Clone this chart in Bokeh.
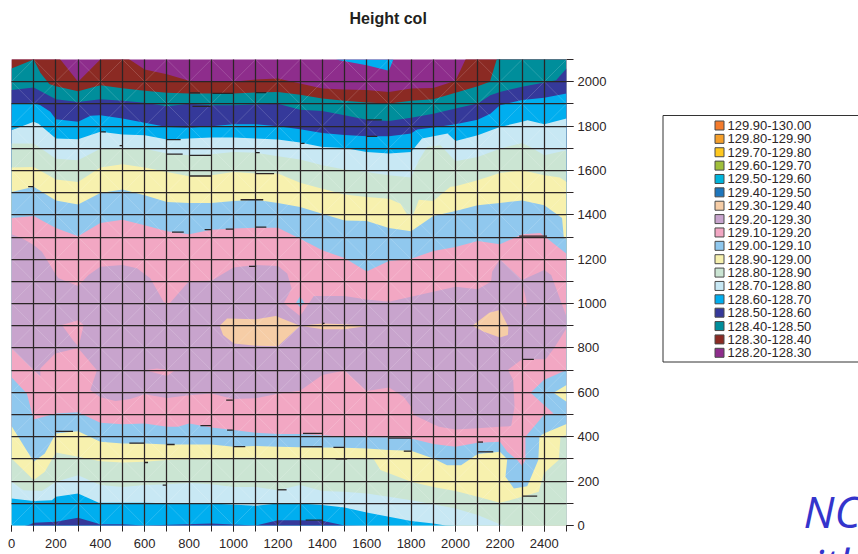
from bokeh.plotting import figure
from bokeh.layouts import row
from bokeh.embed import file_html
from bokeh.resources import INLINE
from bokeh.core.properties import value
from bokeh.models import (LinearAxis, FixedTicker, Range1d, Grid, Title)

TITLE = "Height col"
X_MAJOR = list(range(0, 2401, 200))
X_MINOR = list(range(0, 2501, 100))
Y_MAJOR = list(range(0, 2001, 200))
Y_MINOR = list(range(0, 2101, 100))

LEGEND_LABELS = ["129.90-130.00", "129.80-129.90", "129.70-129.80", "129.60-129.70", "129.50-129.60",
                 "129.40-129.50", "129.30-129.40", "129.20-129.30", "129.10-129.20", "129.00-129.10",
                 "128.90-129.00", "128.80-128.90", "128.70-128.80", "128.60-128.70", "128.50-128.60",
                 "128.40-128.50", "128.30-128.40", "128.20-128.30"]
LEGEND_COLORS = ["#F47B2C", "#F59F2A", "#FFC81E", "#A0BF3B", "#00B5DC", "#1E76BC", "#F6CDA6", "#C8A4CD",
                 "#F2A7C3", "#90C8EE", "#F7F1AE", "#CBE5D3", "#C8E8F4", "#00AEEF", "#35399A", "#008E9B",
                 "#8B2A23", "#8E2D8C"]
PEACH, MAUVE, PINK, MIDBLUE, YELLOW, GREEN, LIGHT, BLUE, NAVY, TEAL, RED, PURPLE = LEGEND_COLORS[6:]

# Contour boundaries (upper half, top to bottom)
red_x = [0, 100, 200, 300, 400, 500, 600, 700, 800, 900, 1000, 1100, 1200, 1300, 1400, 1500, 1600, 1700, 1800, 1900, 2000, 2100, 2500]
red_y = [2150, 2150, 2125, 2000, 2100, 2121, 2055, 2034, 2004, 2000, 2000, 2010, 2014, 1992, 1969, 1965, 1962, 1954, 1969, 1972, 2004, 2217, 2300]
teal_x = [0, 100, 130, 170, 200, 300, 400, 500, 600, 700, 800, 900, 1000, 1100, 1200, 1300, 1400, 1500, 1600, 1700, 1800, 1900, 2000, 2100, 2155, 2200, 2500]
teal_y = [2060, 2100, 2040, 1990, 1980, 1957, 1984, 1970, 1959, 1950, 1947, 1947, 1947, 1951, 1954, 1941, 1924, 1914, 1906, 1902, 1914, 1921, 1950, 1980, 2000, 2148, 2300]
navy_x = [0, 100, 200, 300, 400, 500, 600, 700, 800, 900, 1000, 1100, 1200, 1300, 1400, 1500, 1600, 1700, 1800, 1900, 2000, 2100, 2157, 2200, 2300, 2400, 2453, 2500]
navy_y = [1962, 1974, 1921, 1909, 1921, 1914, 1905, 1889, 1901, 1894, 1894, 1897, 1901, 1874, 1868, 1849, 1829, 1823, 1837, 1856, 1879, 1902, 1939, 1954, 1977, 1996, 2007, 2059]
blue_x = [0, 100, 130, 175, 200, 300, 356, 400, 500, 600, 700, 800, 900, 1000, 1100, 1200, 1300, 1400, 1500, 1600, 1700, 1800, 1827, 1900, 2000, 2100, 2157, 2200, 2300, 2400, 2500]
blue_y = [1902, 1905, 1894, 1864, 1831, 1819, 1846, 1849, 1834, 1815, 1796, 1792, 1799, 1808, 1808, 1799, 1786, 1769, 1760, 1754, 1754, 1766, 1784, 1793, 1808, 1829, 1856, 1894, 1917, 1928, 1947]
light_x = [0, 77, 100, 122, 200, 300, 400, 500, 600, 700, 800, 900, 1000, 1100, 1200, 1300, 1400, 1500, 1600, 1700, 1800, 1849, 1964, 2000, 2100, 2200, 2300, 2325, 2400, 2500]
light_y = [1781, 1811, 1819, 1811, 1744, 1741, 1774, 1762, 1759, 1739, 1744, 1748, 1748, 1744, 1739, 1726, 1706, 1701, 1683, 1676, 1683, 1744, 1766, 1733, 1759, 1796, 1819, 1826, 1808, 1834]
green_x = [0, 100, 130, 200, 300, 400, 500, 600, 700, 800, 900, 1000, 1100, 1200, 1300, 1400, 1500, 1600, 1700, 1800, 1835, 1872, 1932, 2000, 2100, 2200, 2300, 2337, 2400, 2500]
green_y = [1721, 1721, 1701, 1653, 1646, 1698, 1698, 1698, 1676, 1668, 1673, 1683, 1680, 1664, 1649, 1623, 1604, 1593, 1578, 1568, 1646, 1706, 1714, 1641, 1661, 1698, 1724, 1706, 1668, 1691]
yellow_x = [0, 100, 200, 300, 400, 500, 600, 700, 800, 900, 1000, 1100, 1200, 1300, 1400, 1500, 1600, 1700, 1752, 1782, 1810, 1835, 1900, 1977, 2000, 2100, 2200, 2300, 2400, 2470, 2500]
yellow_y = [1613, 1616, 1559, 1548, 1613, 1628, 1613, 1593, 1574, 1578, 1593, 1586, 1586, 1545, 1518, 1492, 1480, 1473, 1450, 1401, 1401, 1468, 1462, 1526, 1529, 1556, 1589, 1601, 1578, 1568, 1548]
midblue_x = [0, 100, 200, 300, 400, 500, 600, 700, 800, 900, 1000, 1100, 1200, 1300, 1400, 1500, 1600, 1700, 1800, 1900, 2000, 2100, 2200, 2300, 2400, 2480, 2488, 2500]
midblue_y = [1503, 1526, 1465, 1447, 1498, 1514, 1488, 1458, 1453, 1453, 1462, 1468, 1453, 1435, 1405, 1375, 1372, 1341, 1326, 1395, 1417, 1443, 1453, 1465, 1443, 1386, 1297, 1290]
pink_x = [0, 100, 200, 300, 400, 500, 600, 700, 800, 900, 1000, 1100, 1200, 1300, 1400, 1500, 1600, 1700, 1800, 1900, 2000, 2100, 2200, 2300, 2382, 2500]
pink_y = [1386, 1395, 1341, 1303, 1363, 1378, 1353, 1326, 1312, 1333, 1338, 1342, 1342, 1292, 1240, 1205, 1145, 1192, 1202, 1237, 1255, 1282, 1267, 1312, 1318, 1225]

# Central 129.20-129.30 region and its islands
mauve_x = [0, 47, 100, 137, 197, 212, 300, 347, 400, 500, 565, 625, 655, 685, 708, 800, 900, 1000, 1100, 1200, 1242, 1262, 1227, 1300, 1362, 1500, 1600, 1700, 1800, 1900, 2000, 2100, 2160, 2165, 2200, 2300, 2400, 2431, 2500,
           2500, 2443, 2406, 2300, 2236, 2260, 2266, 2251, 2200, 2100, 2000, 1925, 1812, 1800, 1766, 1700, 1600, 1500, 1400, 1300, 1200, 1100, 1000, 900, 800, 700, 600, 535, 468, 400, 355, 385, 300, 197, 130, 130, 100, 0]
mauve_y = [1313, 1294, 1264, 1234, 1136, 1114, 1079, 1129, 1166, 1174, 1159, 1114, 1061, 1008, 996, 1102, 1103, 1163, 1174, 1169, 1136, 1068, 1001, 944, 1034, 1034, 1019, 1008, 1031, 1053, 1076, 1065, 1098, 1144, 1200, 1106, 1151, 1129, 941,
           889, 798, 749, 749, 701, 656, 535, 448, 445, 438, 433, 445, 498, 535, 580, 622, 606, 698, 678, 607, 594, 574, 570, 595, 587, 575, 592, 570, 561, 578, 611, 700, 800, 775, 707, 673, 700, 798]
peach1_x = [938, 971, 1102, 1190, 1300, 1200, 1107, 1002, 953]
peach1_y = [900, 933, 929, 944, 900, 808, 810, 820, 858]
peach2_x = [1300, 1400, 1500, 1610, 1500, 1400]
peach2_y = [900, 910, 907, 900, 884, 884]
peach3_x = [2076, 2152, 2200, 2238, 2236, 2200, 2128]
peach3_y = [900, 959, 971, 895, 858, 847, 873]
pinkisle1_x = [227, 300, 325, 302, 277]
pinkisle1_y = [903, 925, 903, 805, 835]
pinkisle2_x = [603, 655, 734, 700]
pinkisle2_y = [700, 707, 697, 674]
pinkisle3_x = [2300, 2300, 2315, 2322]
pinkisle3_y = [1100, 1015, 985, 1000]
diamond_x = [1300, 1318, 1300, 1282]
diamond_y = [1032, 1005, 983, 1005]
wedge_x = [1460, 1600, 1700, 1720]
wedge_y = [2100, 2074, 2049, 2100]

# Lower half, top to bottom
lowmid_x = [0, 69, 100, 200, 300, 400, 500, 600, 700, 750, 800, 900, 1000, 1100, 1200, 1300, 1400, 1500, 1600, 1700, 1800, 1900, 2000, 2100, 2200, 2233, 2278, 2300, 2315, 2315, 2398, 2442, 2338, 2398, 2500]
lowmid_y = [668, 595, 478, 505, 510, 463, 456, 460, 445, 445, 460, 442, 430, 418, 412, 412, 407, 400, 400, 397, 392, 367, 355, 373, 377, 332, 295, 268, 295, 400, 498, 505, 598, 656, 701]
lowyel_x = [0, 100, 150, 200, 300, 400, 500, 600, 700, 800, 900, 1000, 1100, 1200, 1300, 1400, 1500, 1600, 1700, 1800, 1900, 1962, 2025, 2100, 2200, 2233, 2225, 2263, 2323, 2373, 2378, 2398, 2500]
lowyel_y = [448, 287, 325, 415, 425, 377, 370, 370, 365, 365, 365, 355, 358, 355, 353, 352, 350, 347, 340, 337, 302, 272, 272, 322, 332, 298, 220, 167, 177, 295, 400, 415, 457]
wedgeyel_x = [2500, 2442, 2500]
wedgeyel_y = [633, 598, 558]
lowgrn_x = [0, 100, 150, 200, 300, 400, 500, 600, 700, 800, 900, 1000, 1100, 1200, 1300, 1400, 1500, 1600, 1632, 1662, 1800, 1900, 2000, 2100, 2200, 2300, 2375, 2398, 2465, 2473, 2500]
lowgrn_y = [302, 205, 242, 329, 310, 290, 284, 287, 295, 298, 299, 305, 305, 302, 298, 299, 299, 302, 298, 250, 197, 174, 156, 129, 102, 129, 152, 235, 295, 400, 408]
lowlight_x = [0, 54, 137, 200, 300, 400, 500, 600, 700, 800, 900, 1000, 1100, 1200, 1300, 1400, 1500, 1600, 1700, 1800, 1900, 2000, 2100, 2200, 2218, 2500]
lowlight_y = [197, 159, 156, 197, 227, 182, 174, 182, 186, 192, 186, 174, 174, 159, 183, 156, 152, 144, 129, 114, 96, 77, 47, 6, 0, -20]
lowblue_x = [0, 100, 182, 200, 300, 393, 600, 750, 900, 1100, 1200, 1300, 1400, 1500, 1600, 1700, 1800, 1900, 1955, 2500]
lowblue_y = [122, 110, 114, 129, 144, 102, 102, 99, 99, 89, 99, 99, 92, 81, 59, 39, 20, 9, 0, -20]
lownavy_x = [0, 84, 100, 200, 300, 400, 500, 600, 900, 1000, 1100, 1200, 1300, 1400, 1500, 2500]
lownavy_y = [-20, 5, 12, 17, 35, 6, 6, 0, 9, 5, 0, 24, 24, 21, 0, -20]

# Short dark rendering dashes visible on the grid
dash_x0 = [800, 905, 1100, 815, 700, 400, 487, 700, 800, 1100, 800, 1100, 75, 1032, 723, 870, 965, 1100, 1070, 1600, 1600, 1300, 2287, 200, 531, 700, 851, 971, 1000, 967, 597, 681, 1200, 1313, 1300, 1450, 1460, 1700, 1767, 2100, 2100, 2300, 2300, 1325, 1400]
dash_x1 = [850, 1000, 1148, 897, 762, 425, 498, 771, 900, 1118, 900, 1183, 100, 1134, 776, 900, 1000, 1148, 1102, 1668, 1648, 1320, 2412, 277, 600, 735, 900, 997, 1053, 997, 615, 697, 1239, 1400, 1400, 1500, 1512, 1800, 1800, 2124, 2170, 2368, 2353, 1400, 1410]
dash_y = [1950, 1947, 1951, 1889, 1739, 1774, 1712, 1674, 1668, 1680, 1575, 1586, 1527, 1468, 1322, 1333, 1336, 1345, 1168, 1828, 1754, 1722, 1304, 424, 371, 365, 450, 430, 355, 565, 284, 182, 161, 415, 355, 352, 300, 394, 335, 376, 332, 132, 749, 24, 911]

LEFT_W = 620
p = figure(width=LEFT_W, height=554, output_backend="svg", toolbar_location=None,
           x_range=Range1d(0, 2500), y_range=Range1d(0, 2100),
           frame_width=555, frame_height=466, x_axis_location=None, y_axis_location=None,
           min_border_left=11, min_border_top=59, min_border_right=LEFT_W - 566, min_border_bottom=29,
           background_fill_color="white", border_fill_color="white", outline_line_color=None,
           frame_align=False, title=None)
p.grid.visible = False
# an empty title acts as a spacer between the frame and the real title
p.add_layout(Title(text=" ", text_font_size="6px", standoff=17), "above")
p.add_layout(Title(text=TITLE, align="left", offset=338, standoff=15, text_font="Liberation Sans",
                   text_font_style="bold", text_font_size="16px", text_color="#231F20"), "above")


def below(color, xs, ys):
    p.patch(list(xs) + [xs[-1], xs[0]], list(ys) + [-300, -300], fill_color=color, line_color=None)


def poly(color, xs, ys):
    p.patch(xs, ys, fill_color=color, line_color=None)


below(PURPLE, [0, 2500], [2300, 2300])
below(RED, red_x, red_y)
poly(BLUE, wedge_x, wedge_y)
below(TEAL, teal_x, teal_y)
below(NAVY, navy_x, navy_y)
below(BLUE, blue_x, blue_y)
below(LIGHT, light_x, light_y)
below(GREEN, green_x, green_y)
below(YELLOW, yellow_x, yellow_y)
below(MIDBLUE, midblue_x, midblue_y)
below(PINK, pink_x, pink_y)
poly(MAUVE, mauve_x, mauve_y)
poly(PEACH, peach1_x, peach1_y)
poly(PEACH, peach2_x, peach2_y)
poly(PEACH, peach3_x, peach3_y)
poly(PINK, pinkisle1_x, pinkisle1_y)
poly(PINK, pinkisle2_x, pinkisle2_y)
poly(PINK, pinkisle3_x, pinkisle3_y)
poly(MIDBLUE, diamond_x, diamond_y)
below(MIDBLUE, lowmid_x, lowmid_y)
poly(YELLOW, wedgeyel_x, wedgeyel_y)
below(YELLOW, lowyel_x, lowyel_y)
below(GREEN, lowgrn_x, lowgrn_y)
below(LIGHT, lowlight_x, lowlight_y)
below(BLUE, lowblue_x, lowblue_y)
below(NAVY, lownavy_x, lownavy_y)

# faint cell diagonals of the surface mesh
dx, dy = [], []
for i, x0 in enumerate(X_MINOR[:-1]):
    for j, y0 in enumerate(Y_MINOR[:-1]):
        x1, y1 = X_MINOR[i + 1], Y_MINOR[j + 1]
        dx.append([x0, x1])
        dy.append([y0, y1] if (i + j) % 2 == 0 else [y1, y0])
p.multi_line(dx, dy, line_color="white", line_alpha=0.2, line_width=0.8)

p.segment(dash_x0, dash_y, dash_x1, dash_y, line_color="#2b2526", line_width=1.3)

for dim, ticks in ((0, X_MINOR), (1, Y_MINOR)):
    p.add_layout(Grid(dimension=dim, ticker=FixedTicker(ticks=ticks), grid_line_color="#2b2526",
                      grid_line_width=1.25, level="guide"))

TICK_FONT = "Liberation Sans"
xaxis = LinearAxis(ticker=FixedTicker(ticks=X_MAJOR, minor_ticks=X_MINOR), axis_line_color=None,
                   major_tick_line_color="#2b2526", minor_tick_line_color="#2b2526",
                   major_tick_in=0, major_tick_out=6, minor_tick_in=0, minor_tick_out=6,
                   major_label_text_font=TICK_FONT, major_label_text_font_size="13px",
                   major_label_text_color="#2b2526", major_label_standoff=7)
yaxis = LinearAxis(ticker=FixedTicker(ticks=Y_MAJOR, minor_ticks=Y_MINOR), axis_line_color=None,
                   major_tick_line_color="#2b2526", minor_tick_line_color="#2b2526",
                   major_tick_in=0, major_tick_out=7, minor_tick_in=0, minor_tick_out=7,
                   major_label_text_font=TICK_FONT, major_label_text_font_size="13px",
                   major_label_text_color="#2b2526", major_label_standoff=4)
p.add_layout(xaxis, "below")
p.add_layout(yaxis, "right")

# Right-hand panel: its data coordinates are the page's pixels
q = figure(width=858 - LEFT_W, height=554, output_backend="svg", toolbar_location=None,
           x_range=Range1d(LEFT_W, 858), y_range=Range1d(554, 0),
           frame_width=858 - LEFT_W, frame_height=554, title=None, frame_align=False,
           x_axis_location=None, y_axis_location=None,
           min_border=0, background_fill_color="white", border_fill_color="white", outline_line_color=None)
q.grid.visible = False
q.quad(left=[662.5], right=[900], top=[115], bottom=[361.5], fill_color="white", line_color="#333333", line_width=1)
rows = [125 + k * 13.37 for k in range(len(LEGEND_LABELS))]
q.rect(x=[719] * len(rows), y=rows, width=9, height=9, fill_color=LEGEND_COLORS, line_color="#4a4a4a", line_width=1)
q.text(x=[727] * len(rows), y=rows, text=LEGEND_LABELS, text_baseline="middle",
       text_font=value("Liberation Sans"), text_font_size=value("13px"), text_color="#2b2526")
q.text(x=[803, 812], y=[510, 563], text=["NC", "ith"], text_baseline="alphabetic",
       text_font=value("Open Sans"), text_font_style="italic", text_font_size=value("44px"), text_color="#3434CC")

open("out.html", "w").write(file_html(row(p, q), INLINE))
